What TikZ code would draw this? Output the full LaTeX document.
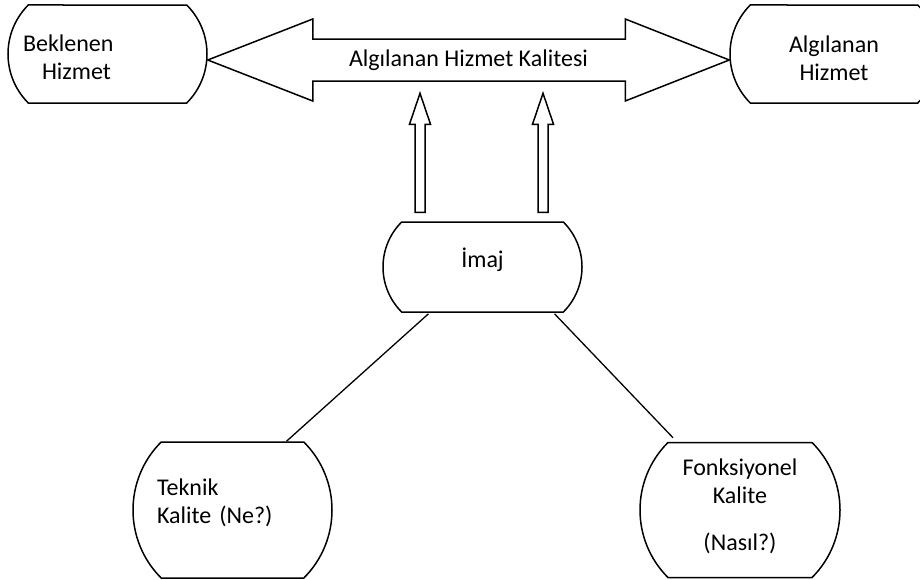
\documentclass[tikz,border=0pt]{standalone}
\usepackage{fontspec}
\setmainfont{Carlito}
\usetikzlibrary{calc,shapes.misc}
\tikzset{
  termbox/.style={rounded rectangle,rounded rectangle arc length=90,draw=black,
    line width=1.5pt,fill=white,inner xsep=0pt,inner ysep=0pt,
    font=\fontsize{24}{28}\selectfont,align=center},
  hollow/.style={draw=black,line width=1.5pt,fill=white,line join=miter},
  link/.style={draw=black,line width=1.3pt}
}
\begin{document}
\begin{tikzpicture}[x=1pt,y=-1pt]
  \useasboundingbox (0,0) rectangle (920,579);
  \node[termbox,minimum width=199pt,minimum height=98pt,text width=159pt,align=left] (bek) at (107.5,54) {\rule{0pt}{24pt}\hspace*{-5pt}Beklenen\\\hspace*{14pt}Hizmet};
  \node[termbox,minimum width=208pt,minimum height=98pt] (alg) at (834,54) {\rule{0pt}{26pt}Algılanan\\Hizmet};
  \node[termbox,minimum width=199pt,minimum height=90pt] (imaj) at (482.5,267) {İmaj\\[-10pt]};
  \node[termbox,minimum width=199pt,minimum height=136pt,text width=143pt,align=left] (tek) at (232.5,510) {\hspace*{-4pt}Teknik\\\hspace*{-4pt}Kalite (Ne?)\rule[-18pt]{0pt}{18pt}};
  \node[termbox,minimum width=200pt,minimum height=135pt] (fonk) at (740,510) {Fonksiyonel\\Kalite\\[19pt](Nasıl?)\\[-18pt]};
  % double arrow between the two services
  \coordinate (ltip) at ($(bek.east)+(0,6)$);
  \coordinate (rtip) at ($(alg.west)+(0,6)$);
  \draw[hollow] (ltip) -- ++(105,-41) -- ++(0,20) -- ($(rtip)+(-104,-21)$) -- ++(0,-20)
    -- (rtip) -- ++(-104,41) -- ++(0,-20) -- ($(ltip)+(105,21)$) -- ++(0,20) -- cycle;
  \node[font=\fontsize{24}{28}\selectfont] (quality) at ($(ltip)!0.5!(rtip)$) {Algılanan Hizmet Kalitesi};
  % image feeds the perceived quality
  \foreach \dx in {-62.5,60.5}
    \draw[hollow] ($(imaj.north)+(\dx-5,-9)$) -- ($(imaj.north)+(\dx-5,-97)$)
      -- ($(imaj.north)+(\dx-10.5,-97)$) -- ($(imaj.north)+(\dx,-128)$)
      -- ($(imaj.north)+(\dx+10.5,-97)$) -- ($(imaj.north)+(\dx+5,-97)$)
      -- ($(imaj.north)+(\dx+5,-9)$) -- cycle;
  \draw[link] ($(imaj.south)+(-54,1)$) -- ($(tek.north)+(54,0)$);
  \draw[link] ($(imaj.south)+(72,1)$) -- ($(fonk.north)+(-67,-4)$);
\end{tikzpicture}
\end{document}
